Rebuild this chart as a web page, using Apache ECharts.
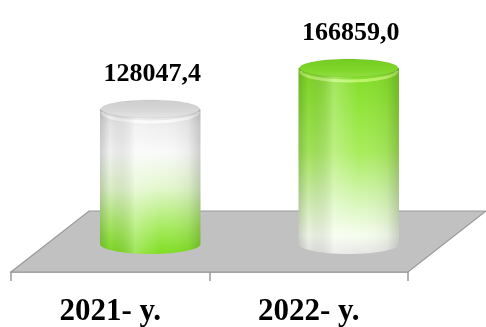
<!DOCTYPE html>
<html>
<head>
<meta charset="utf-8">
<script src="https://cdn.jsdelivr.net/npm/echarts@6/dist/echarts.min.js"></script>
<style>
html,body{margin:0;padding:0;background:#fff;}
#chart{width:486px;height:327px;}
</style>
</head>
<body>
<div id="chart"></div>
<script>
// ---- data ----
var categories = ['2021- y.', '2022- y.'];
var values = [128047.4, 166859.0];
var valueLabels = ['128047,4', '166859,0'];

// ---- styles ----
var DEPTH_X = 78, DEPTH_Y = -61;      // floor depth
var BAR_DX = 40, BAR_DY = -28;        // bar placement on the floor
var RY = 10;                           // ellipse vertical radius
var K = 0.5523;

function ellipsePath(cx, cy, rx, ry) {
  return 'M' + (cx - rx) + ' ' + cy +
    ' C' + (cx - rx) + ' ' + (cy - K * ry) + ' ' + (cx - K * rx) + ' ' + (cy - ry) + ' ' + cx + ' ' + (cy - ry) +
    ' C' + (cx + K * rx) + ' ' + (cy - ry) + ' ' + (cx + rx) + ' ' + (cy - K * ry) + ' ' + (cx + rx) + ' ' + cy +
    ' C' + (cx + rx) + ' ' + (cy + K * ry) + ' ' + (cx + K * rx) + ' ' + (cy + ry) + ' ' + cx + ' ' + (cy + ry) +
    ' C' + (cx - K * rx) + ' ' + (cy + ry) + ' ' + (cx - rx) + ' ' + (cy + K * ry) + ' ' + (cx - rx) + ' ' + cy + ' Z';
}
function frontArc(cx, cy, rx, ry) {
  return 'M' + (cx - rx) + ' ' + cy +
    ' C' + (cx - rx) + ' ' + (cy + K * ry) + ' ' + (cx - K * rx) + ' ' + (cy + ry) + ' ' + cx + ' ' + (cy + ry) +
    ' C' + (cx + K * rx) + ' ' + (cy + ry) + ' ' + (cx + rx) + ' ' + (cy + K * ry) + ' ' + (cx + rx) + ' ' + cy;
}
function bodyPath(cx, topC, baseC, rx, ry) {
  var l = cx - rx, r = cx + rx;
  return 'M' + l + ' ' + topC + ' L' + l + ' ' + baseC +
    ' C' + l + ' ' + (baseC + K * ry) + ' ' + (cx - K * rx) + ' ' + (baseC + ry) + ' ' + cx + ' ' + (baseC + ry) +
    ' C' + (cx + K * rx) + ' ' + (baseC + ry) + ' ' + r + ' ' + (baseC + K * ry) + ' ' + r + ' ' + baseC +
    ' L' + r + ' ' + topC + ' Z';
}
function grad(stops, horizontal) {
  return {
    type: 'linear', x: 0, y: 0, x2: horizontal ? 1 : 0, y2: horizontal ? 0 : 1,
    colorStops: stops.map(function (s) { return { offset: s[0], color: s[1] }; })
  };
}
var bodyStops = [
  [[0, '#dadada'], [0.1, '#ededed'], [0.3, '#fafafa'], [0.55, '#e2f7cc'], [0.8, '#aaec66'], [1, '#80de22']],
  [[0, '#82da28'], [0.15, '#8ce234'], [0.45, '#a8ec5c'], [0.7, '#d4f5b2'], [0.9, '#f6fdee'], [1, '#e6e6e6']]
];
var topStops = [
  [[0, '#cdcdcd'], [0.6, '#d8d8d8'], [1, '#e6e6e6']],
  [[0, '#74cc20'], [0.6, '#80d62a'], [1, '#92e040']]
];
var rimColors = ['rgba(255,255,255,0.75)', 'rgba(200,250,120,0.8)'];
var shadeStops = [[0, 'rgba(0,0,0,0.18)'], [0.1, 'rgba(0,0,0,0.04)'], [0.35, 'rgba(255,255,255,0.25)'],
  [0.6, 'rgba(255,255,255,0)'], [0.88, 'rgba(0,0,0,0.05)'], [1, 'rgba(0,0,0,0.18)']];

var chart = echarts.init(document.getElementById('chart'), null, { renderer: 'canvas' });

chart.setOption({
  backgroundColor: '#ffffff',
  animation: false,
  grid: { left: 11, right: 78, top: 61, bottom: 54 },
  xAxis: {
    type: 'category',
    data: categories,
    axisLine: { show: true, lineStyle: { color: '#9a9a9a', width: 1.5 } },
    axisTick: { show: true, length: 9, lineStyle: { color: '#9a9a9a', width: 1.5 } },
    axisLabel: {
      margin: 24,
      color: '#000',
      fontFamily: 'Liberation Serif',
      fontWeight: 'bold',
      fontSize: 31
    }
  },
  yAxis: { type: 'value', min: 0, max: 200000, show: false, splitLine: { show: false } },
  series: [{
    type: 'custom',
    data: values.map(function (v, i) { return [i, v]; }),
    encode: { x: 0, y: 1 },
    renderItem: function (params, api) {
      var i = params.dataIndex;
      var cs = params.coordSys;
      var base = api.coord([api.value(0), 0]);
      var top = api.coord([api.value(0), api.value(1)]);
      var catW = api.size([1, 0])[0];
      var rx = catW * 0.253;
      var cx = base[0] + BAR_DX;
      var baseC = base[1] + BAR_DY;
      var topC = top[1] + BAR_DY;
      var children = [];
      if (i === 0) {
        var x0 = cs.x, x1 = cs.x + cs.width, yb = cs.y + cs.height;
        children.push({
          type: 'polygon',
          shape: { points: [[x0, yb], [x1, yb], [x1 + DEPTH_X, yb + DEPTH_Y], [x0 + DEPTH_X, yb + DEPTH_Y]] },
          style: { fill: '#c1c1c1', stroke: '#9a9a9a', lineWidth: 1.2 }
        });
      }
      children.push({
        type: 'path',
        shape: { pathData: bodyPath(cx, topC, baseC, rx, RY) },
        style: { fill: grad(bodyStops[i], false) }
      });
      children.push({
        type: 'path',
        shape: { pathData: frontArc(cx, topC + 3, rx - 2, RY) },
        style: { fill: null, stroke: rimColors[i], lineWidth: 3 }
      });
      children.push({
        type: 'path',
        shape: { pathData: bodyPath(cx, topC, baseC, rx, RY) },
        style: { fill: grad(shadeStops, true) }
      });
      children.push({
        type: 'path',
        shape: { pathData: ellipsePath(cx, topC, rx - 1, RY - 1) },
        style: { fill: grad(topStops[i], false), stroke: 'rgba(0,0,0,0.05)', lineWidth: 1 }
      });
      children.push({
        type: 'text',
        style: {
          text: valueLabels[i],
          x: cx + 2, y: topC - RY - 25,
          align: 'center', verticalAlign: 'middle',
          fill: '#000',
          font: 'bold 26px "Liberation Serif"'
        }
      });
      return { type: 'group', children: children };
    }
  }]
});
</script>
</body>
</html>
